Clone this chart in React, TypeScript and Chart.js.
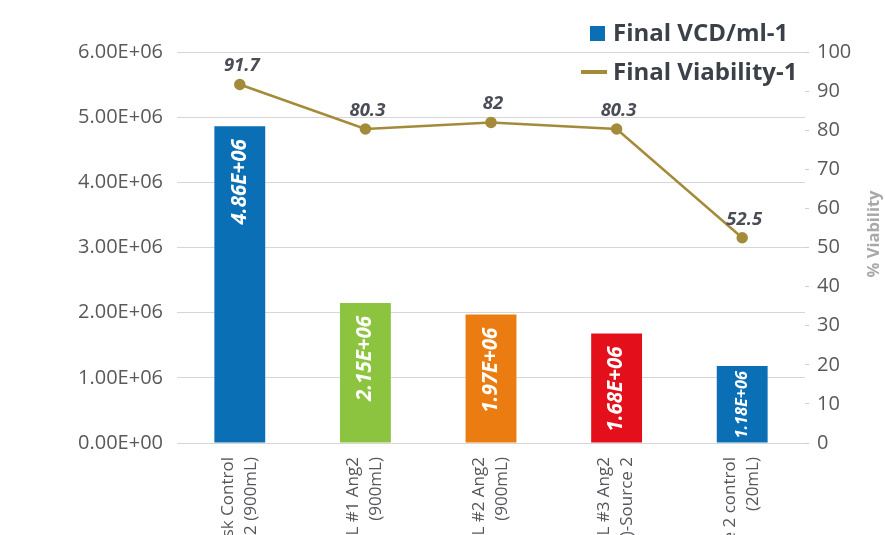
import React, { useEffect, useRef } from 'react';
import { Chart, registerables } from 'chart.js';

Chart.register(...registerables);

const categories: string[][] = [
  ['Shake Flask Control', 'Source 2 (900mL)'],
  ['GSL #1 Ang2', '(900mL)'],
  ['GSL #2 Ang2', '(900mL)'],
  ['GSL #3 Ang2', '(900mL)-Source 2'],
  ['Source 2 control', '(20mL)'],
];
const vcdValues = [4.86e6, 2.15e6, 1.97e6, 1.68e6, 1.18e6];
const viabilityValues = [91.7, 80.3, 82, 80.3, 52.5];
const barColors = ['#0b6fb6', '#8cc43f', '#ea7c11', '#e3101b', '#0b6fb6'];
const lineColor = '#a48b3a';
const seriesNames = ['Final VCD/ml-1', 'Final Viability-1'];
const axisTitleRight = '% Viability';
const vcdMin = 0;
const vcdMax = 6e6;
const vcdStep = 1e6;
const viaMin = 0;
const viaMax = 100;
const viaStep = 10;

const FONT = '"Open Sans", "Noto Sans", sans-serif';
const W = 885;
const H = 620;

function fmtSci(v: number): string {
  const [m, e] = v.toExponential(2).split('e');
  const sign = e.startsWith('-') ? '-' : '+';
  const digits = e.replace(/[+-]/, '').padStart(2, '0');
  return `${m}E${sign}${digits}`;
}

const overlayPlugin = {
  id: 'overlay',
  afterDatasetsDraw(chart: any) {
    const ctx = chart.ctx as CanvasRenderingContext2D;
    // bar value labels
    const barMeta = chart.getDatasetMeta(0);
    barMeta.data.forEach((bar: any, i: number) => {
      const text = fmtSci(vcdValues[i]);
      const h = bar.base - bar.y;
      let size = 20.5;
      let gap = 13;
      ctx.save();
      ctx.font = `italic bold ${size}px ${FONT}`;
      const w = ctx.measureText(text).width;
      if (w > h - 16) {
        gap = 5;
        const avail = h - 9;
        size = Math.max(10, (size * avail) / w);
        ctx.font = `italic bold ${size}px ${FONT}`;
      }
      ctx.translate(bar.x, bar.y + gap);
      ctx.rotate(-Math.PI / 2);
      ctx.textAlign = 'right';
      ctx.textBaseline = 'middle';
      ctx.fillStyle = '#ffffff';
      ctx.fillText(text, 0, 0);
      ctx.restore();
    });
    // line value labels
    const lineMeta = chart.getDatasetMeta(1);
    lineMeta.data.forEach((pt: any, i: number) => {
      ctx.save();
      ctx.font = `italic bold 18.5px ${FONT}`;
      ctx.textAlign = 'center';
      ctx.textBaseline = 'alphabetic';
      ctx.fillStyle = '#4a4d55';
      ctx.fillText(String(viabilityValues[i]), pt.x + 2, pt.y - 13);
      ctx.restore();
    });
  },
  afterDraw(chart: any) {
    const ctx = chart.ctx as CanvasRenderingContext2D;
    ctx.save();
    // legend
    ctx.fillStyle = barColors[0];
    ctx.fillRect(590, 26, 15, 15);
    ctx.strokeStyle = lineColor;
    ctx.lineWidth = 4;
    ctx.beginPath();
    ctx.moveTo(581, 72);
    ctx.lineTo(607, 72);
    ctx.stroke();
    ctx.font = `bold 24px ${FONT}`;
    ctx.fillStyle = '#3c4049';
    ctx.textAlign = 'left';
    ctx.textBaseline = 'alphabetic';
    ctx.fillText(seriesNames[0], 613, 41);
    ctx.fillText(seriesNames[1], 613, 80);
    ctx.restore();
    // right axis title
    ctx.save();
    ctx.font = `bold 16.5px ${FONT}`;
    ctx.fillStyle = '#a8a8a8';
    ctx.translate(874, 234);
    ctx.rotate(-Math.PI / 2);
    ctx.textAlign = 'center';
    ctx.textBaseline = 'middle';
    ctx.fillText(axisTitleRight, 0, 0);
    ctx.restore();
  },
};

export default function App() {
  const ref = useRef<HTMLCanvasElement | null>(null);
  useEffect(() => {
    if (!ref.current) return;
    const chart = new Chart(ref.current, {
      type: 'bar',
      data: {
        labels: categories as any,
        datasets: [
          {
            type: 'bar',
            label: seriesNames[0],
            data: vcdValues,
            backgroundColor: barColors,
            yAxisID: 'y',
            barPercentage: 0.405,
            categoryPercentage: 1,
            order: 2,
          } as any,
          {
            type: 'line',
            label: seriesNames[1],
            data: viabilityValues,
            borderColor: lineColor,
            backgroundColor: lineColor,
            borderWidth: 2.5,
            pointRadius: 4.5,
            pointBackgroundColor: lineColor,
            pointBorderColor: lineColor,
            yAxisID: 'y1',
            tension: 0,
            order: 1,
          } as any,
        ],
      },
      options: {
        responsive: false,
        animation: false,
        devicePixelRatio: 1,
        layout: { padding: { top: 52, left: 0, right: 0, bottom: 0 } },
        plugins: {
          legend: { display: false },
          tooltip: { enabled: false },
        },
        scales: {
          x: {
            grid: { display: false, drawTicks: false },
            border: { display: false },
            ticks: {
              autoSkip: false,
              maxRotation: 90,
              minRotation: 90,
              padding: 14,
              labelOffset: -12,
              color: '#55575c',
              font: { family: FONT, size: 17, lineHeight: 1.35 },
            },
            afterFit: (s: any) => {
              s.height = H - 443;
            },
          },
          y: {
            position: 'left',
            min: vcdMin,
            max: vcdMax,
            grid: { color: '#d6d6d6', lineWidth: 1, drawTicks: false },
            border: { display: false },
            ticks: {
              stepSize: vcdStep,
              padding: 14,
              color: '#58595b',
              font: { family: FONT, size: 20 },
              callback: (v: any) => fmtSci(Number(v)),
            },
            afterFit: (s: any) => {
              s.width = 177;
            },
          },
          y1: {
            position: 'right',
            min: viaMin,
            max: viaMax,
            grid: { drawOnChartArea: false, drawTicks: true, tickLength: 4, color: '#cfcfcf' },
            border: { display: false },
            ticks: {
              stepSize: viaStep,
              padding: 8,
              color: '#58595b',
              font: { family: FONT, size: 20 },
            },
            afterFit: (s: any) => {
              s.width = W - 805;
            },
          },
        },
      },
      plugins: [overlayPlugin],
    } as any);
    return () => chart.destroy();
  }, []);
  return (
    <div
      style={{
        position: 'fixed',
        left: 0,
        top: 0,
        width: W,
        height: 535,
        overflow: 'hidden',
        background: '#ffffff',
      }}
    >
      <canvas ref={ref} width={W} height={H} style={{ display: 'block' }} />
    </div>
  );
}
